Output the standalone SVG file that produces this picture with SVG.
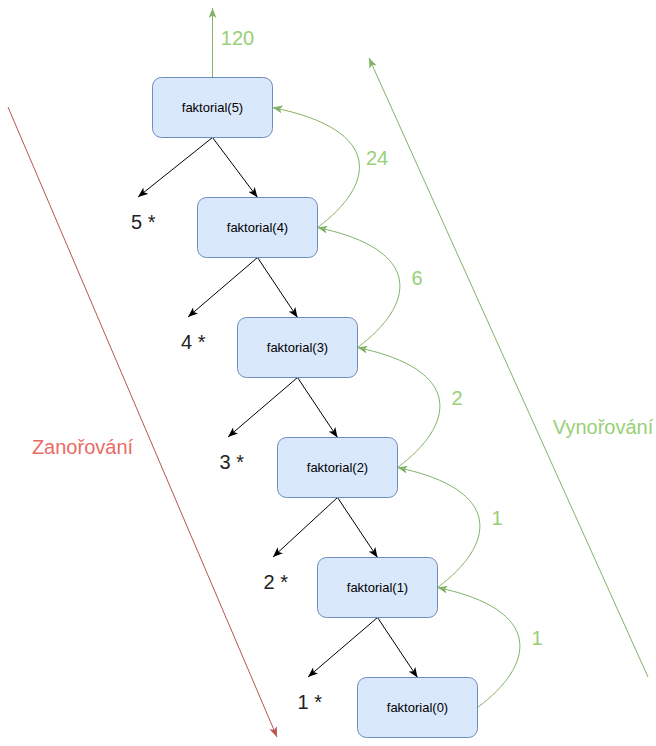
<svg xmlns="http://www.w3.org/2000/svg" width="656" height="746" viewBox="0 0 656 746">
<style>
.node rect{fill:#dae8fc;stroke:#6c8ebf;stroke-width:1}
.node text{font-family:"Liberation Sans",Arial,sans-serif;font-size:13px;fill:#000;text-anchor:middle}
.blk{stroke:#000;stroke-width:1;fill:none;marker-end:url(#ab)}
.grn{stroke:#82b366;stroke-width:1;fill:none;marker-end:url(#ag)}
.red{stroke:#b85450;stroke-width:1;fill:none;marker-end:url(#ar)}
.lbl{font-family:"Liberation Sans",Arial,sans-serif;font-size:20px}
.g{fill:#97d077;text-anchor:middle}
.k{fill:#222}
</style>
<defs>
<marker id="ab" markerUnits="userSpaceOnUse" viewBox="0 0 10 8" refX="10" refY="4" markerWidth="10" markerHeight="8" orient="auto"><path d="M0,0 L10,4 L0,8 L2.5,4 Z" fill="#000"/></marker>
<marker id="ag" markerUnits="userSpaceOnUse" viewBox="0 0 10 8" refX="10" refY="4" markerWidth="10" markerHeight="8" orient="auto"><path d="M0,0 L10,4 L0,8 L2.5,4 Z" fill="#82b366"/></marker>
<marker id="ar" markerUnits="userSpaceOnUse" viewBox="0 0 10 8" refX="10" refY="4" markerWidth="10" markerHeight="8" orient="auto"><path d="M0,0 L10,4 L0,8 L2.5,4 Z" fill="#b85450"/></marker>
</defs>
<g id="connectors">
<path class="grn" d="M212.5,77.5 L212.5,8"/>
<path class="blk" d="M212.5,137.5 L138,197"/>
<path class="blk" d="M212.5,137.5 L257.5,197.5"/>
<path class="blk" d="M257.5,257.5 L188,317"/>
<path class="blk" d="M257.5,257.5 L297.5,317.5"/>
<path class="blk" d="M297.5,377.5 L228,437"/>
<path class="blk" d="M297.5,377.5 L337.5,437.5"/>
<path class="blk" d="M337.5,497.5 L273,557"/>
<path class="blk" d="M337.5,497.5 L377.5,557.5"/>
<path class="blk" d="M377.5,617.5 L308,677"/>
<path class="blk" d="M377.5,617.5 L417.5,677.5"/>
<path class="grn" d="M317.5,227.5 C375,185 385,130 272.5,107.5"/>
<path class="grn" d="M357.5,347.5 C415,305 425,250 317.5,227.5"/>
<path class="grn" d="M397.5,467.5 C455,425 465,370 357.5,347.5"/>
<path class="grn" d="M437.5,587.5 C495,545 505,490 397.5,467.5"/>
<path class="grn" d="M477.5,707.5 C535,665 545,610 437.5,587.5"/>
<path class="red" d="M8,107 L277,737"/>
<path class="grn" d="M648,677 L369,58"/>
</g>
<g id="n5" class="node"><rect x="152.5" y="77.5" width="120" height="60" rx="9"/><text x="212.5" y="112.3">faktorial(5)</text></g>
<g id="n4" class="node"><rect x="197.5" y="197.5" width="120" height="60" rx="9"/><text x="257.5" y="232.3">faktorial(4)</text></g>
<g id="n3" class="node"><rect x="237.5" y="317.5" width="120" height="60" rx="9"/><text x="297.5" y="352.3">faktorial(3)</text></g>
<g id="n2" class="node"><rect x="277.5" y="437.5" width="120" height="60" rx="9"/><text x="337.5" y="472.3">faktorial(2)</text></g>
<g id="n1" class="node"><rect x="317.5" y="557.5" width="120" height="60" rx="9"/><text x="377.5" y="592.3">faktorial(1)</text></g>
<g id="n0" class="node"><rect x="357.5" y="677.5" width="120" height="60" rx="9"/><text x="417.5" y="712.3">faktorial(0)</text></g>
<g id="labels" class="lbl">
<text class="g" x="237.5" y="45">120</text>
<text class="g" x="377" y="165">24</text>
<text class="g" x="417" y="285">6</text>
<text class="g" x="457" y="405">2</text>
<text class="g" x="497" y="525">1</text>
<text class="g" x="537" y="645">1</text>
<text class="k" x="131" y="229">5 *</text>
<text class="k" x="181" y="349">4 *</text>
<text class="k" x="219.5" y="469">3 *</text>
<text class="k" x="263.5" y="589">2 *</text>
<text class="k" x="297.5" y="708.5">1 *</text>
<text x="82.5" y="454" fill="#ea6b66" text-anchor="middle">Zanořování</text>
<text x="603" y="434" fill="#97d077" text-anchor="middle">Vynořování</text>
</g>
</svg>
